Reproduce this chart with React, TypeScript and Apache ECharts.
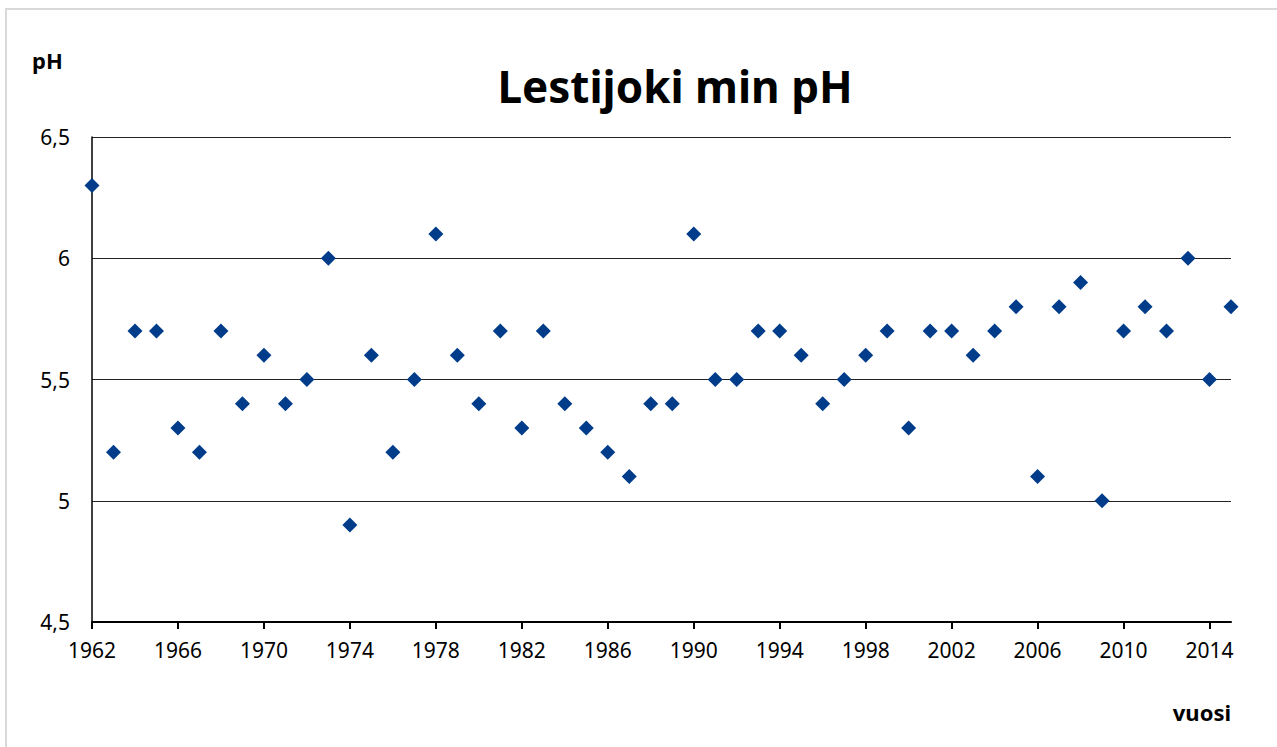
import React, { useEffect, useRef } from "react";
import * as echarts from "echarts";

const years: string[] = [];
for (let y = 1962; y <= 2015; y++) years.push(String(y));

const minPH: number[] = [
  6.3, 5.2, 5.7, 5.7, 5.3, 5.2, 5.7, 5.4, 5.6, 5.4,
  5.5, 6.0, 4.9, 5.6, 5.2, 5.5, 6.1, 5.6, 5.4, 5.7,
  5.3, 5.7, 5.4, 5.3, 5.2, 5.1, 5.4, 5.4, 6.1, 5.5,
  5.5, 5.7, 5.7, 5.6, 5.4, 5.5, 5.6, 5.7, 5.3, 5.7,
  5.7, 5.6, 5.7, 5.8, 5.1, 5.8, 5.9, 5.0, 5.7, 5.8,
  5.7, 6.0, 5.5, 5.8,
];

const titleText = "Lestijoki min pH";
const yAxisName = "pH";
const xAxisName = "vuosi";

const FONT = "'Noto Sans', 'Open Sans', sans-serif";

export default function App() {
  const ref = useRef<HTMLDivElement>(null);
  useEffect(() => {
    if (!ref.current) return;
    const chart = echarts.init(ref.current, null, { renderer: "svg" });
    chart.setOption({
      animation: false,
      backgroundColor: "#fff",
      textStyle: { fontFamily: FONT },
      graphic: [
        {
          type: "rect",
          shape: { x: 6, y: 9, width: 1400, height: 900 },
          style: { fill: "none", stroke: "#d9d9d9", lineWidth: 2 },
          silent: true,
        },
        {
          type: "text",
          x: 675,
          y: 86,
          style: {
            text: titleText,
            font: `bold 44px ${FONT}`,
            fill: "#000",
            align: "center",
            verticalAlign: "middle",
          },
        },
        {
          type: "text",
          x: 32,
          y: 60,
          style: {
            text: yAxisName,
            font: `bold 22px ${FONT}`,
            fill: "#000",
            align: "left",
            verticalAlign: "middle",
          },
        },
        {
          type: "text",
          x: 1231,
          y: 712,
          style: {
            text: xAxisName,
            font: `bold 22px ${FONT}`,
            fill: "#000",
            align: "right",
            verticalAlign: "middle",
          },
        },
      ],
      grid: { left: 92, right: 46, top: 137, bottom: 125, containLabel: false },
      xAxis: {
        type: "category",
        data: years,
        boundaryGap: false,
        axisLine: { show: true, onZero: false, lineStyle: { color: "#000", width: 2 } },
        axisTick: { show: true, interval: 3, length: 7, lineStyle: { color: "#000", width: 2 } },
        axisLabel: { interval: 3, color: "#000", fontSize: 21, margin: 17, fontFamily: FONT },
        splitLine: { show: false },
      },
      yAxis: {
        type: "value",
        min: 4.5,
        max: 6.5,
        interval: 0.5,
        axisLine: { show: true, lineStyle: { color: "#000", width: 1.5 } },
        axisTick: { show: false },
        axisLabel: {
          color: "#000",
          fontSize: 21,
          margin: 22,
          fontFamily: FONT,
          formatter: (v: number) => String(v).replace(".", ","),
        },
        splitLine: { show: true, lineStyle: { color: "#222", width: 1 } },
      },
      series: [
        {
          type: "scatter",
          data: minPH,
          symbol: "diamond",
          symbolSize: [15, 15],
          itemStyle: { color: "#003C8A", opacity: 1 },
        },
      ],
    });
    return () => chart.dispose();
  }, []);
  return (
    <div
      ref={ref}
      style={{ position: "fixed", left: 0, top: 0, width: 1277, height: 747 }}
    />
  );
}
